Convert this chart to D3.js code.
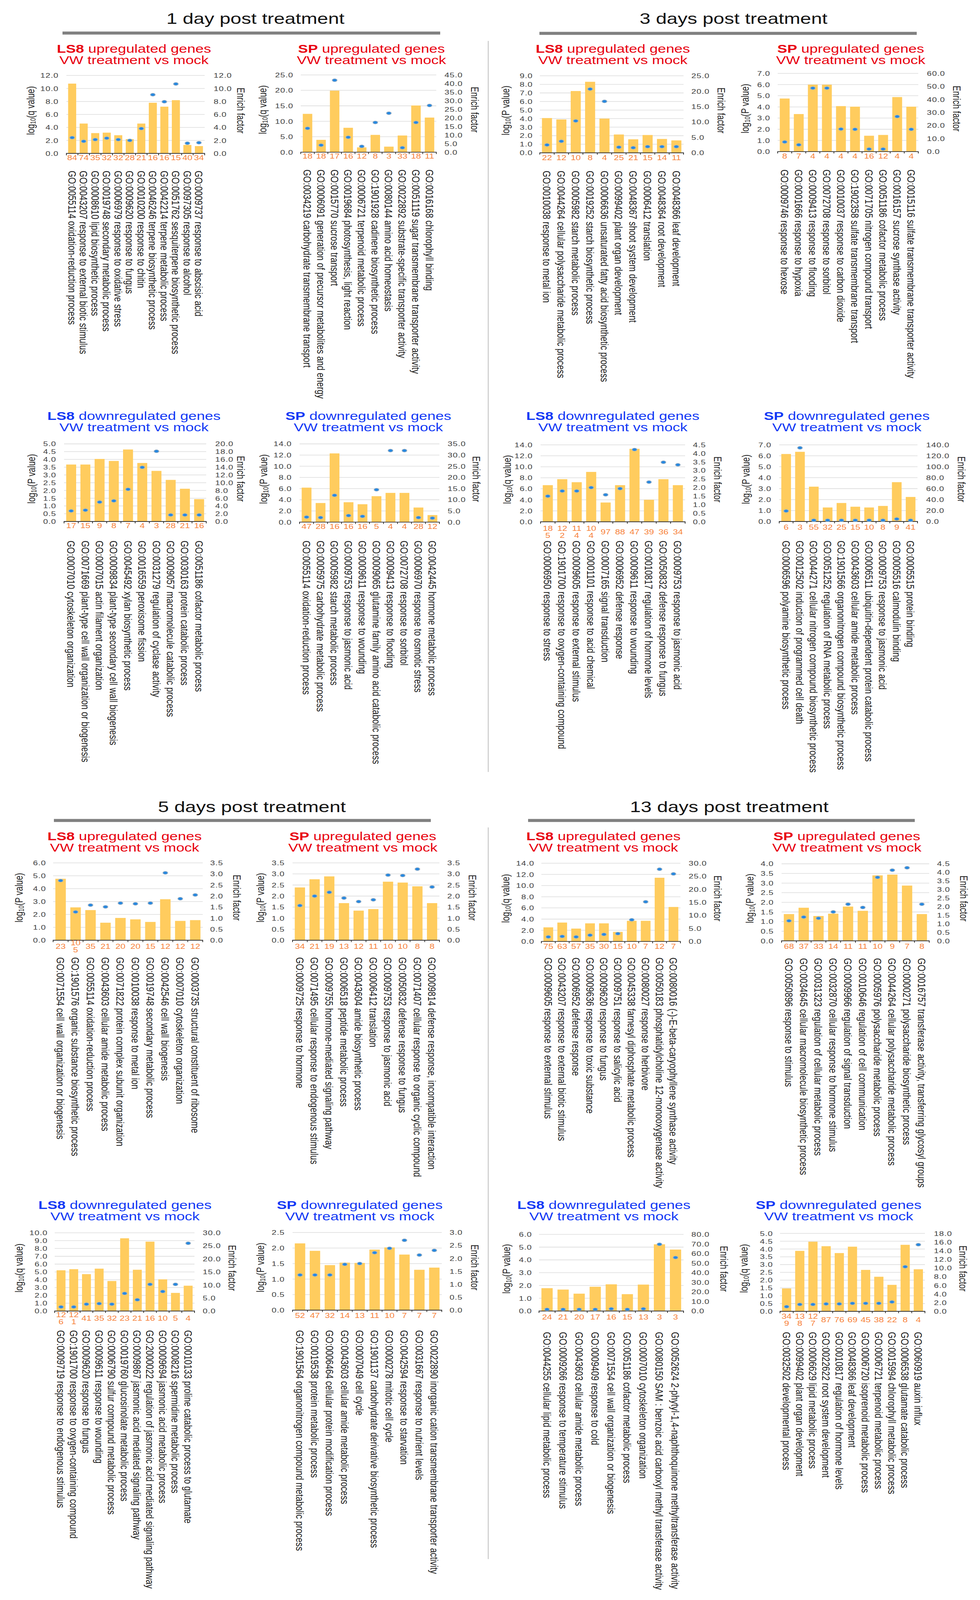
<!DOCTYPE html>
<html>
<head>
<meta charset="utf-8">
<script src="https://cdn.jsdelivr.net/npm/d3@7/dist/d3.min.js"></script>
<style>
  html, body { margin: 0; background: #fff; overflow: hidden; }
  svg { display: block; font-family: "Liberation Sans", Arial, Helvetica, sans-serif; }
</style>
</head>
<body>
<div id="chart"></div>
<script>
// ---------------- data ----------------
// axes: [left max, left step, right max, right step]

// 1 day, LS8 up
const d1LS8upTerms = ['GO:0055114 oxidation-reduction process', 'GO:0043207 response to external biotic stimulus', 'GO:0008610 lipid biosynthetic process', 'GO:0019748 secondary metabolic process', 'GO:0006979 response to oxidative stress', 'GO:0009620 response to fungus', 'GO:0010200 response to chitin', 'GO:0046246 terpene biosynthetic process', 'GO:0042214 terpene metabolic process', 'GO:0051762 sesquiterpene biosynthetic process', 'GO:0097305 response to alcohol', 'GO:0009737 response to abscisic acid']
const d1LS8upCounts = [84, 74, 35, 32, 32, 28, 21, 16, 16, 15, 40, 34]
const d1LS8upLog = [10.75, 4.6, 3.13, 3.2, 2.8, 2.2, 4.6, 7.8, 7.2, 8.2, 1.3, 1.13]
const d1LS8upEnrich = [2.43, 1.87, 2.13, 2.35, 2.13, 2.0, 3.83, 9.04, 7.96, 10.7, 1.57, 1.65]
const d1LS8upAxes = [12, 2, 12, 2]

// 1 day, SP up
const d1SPupTerms = ['GO:0034219 carbohydrate transmembrane transport', 'GO:0006091 generation of precursor metabolites and energy', 'GO:0015770 sucrose transport', 'GO:0019684 photosynthesis, light reaction', 'GO:0006721 terpenoid metabolic process', 'GO:1901928 cadinene biosynthetic process', 'GO:0080144 amino acid homeostasis', 'GO:0022892 substrate-specific transporter activity', 'GO:0051119 sugar transmembrane transporter activity', 'GO:0016168 chlorophyll binding']
const d1SPupCounts = [18, 18, 17, 16, 12, 8, 3, 33, 18, 11]
const d1SPupLog = [12.4, 4.0, 19.9, 7.9, 1.55, 5.6, 1.8, 5.4, 15.1, 11.2]
const d1SPupEnrich = [13.9, 4.1, 41.9, 8.7, 3.4, 17.3, 22.7, 2.6, 17.3, 27.2]
const d1SPupAxes = [25, 5, 45, 5]

// 3 days, LS8 up
const d3LS8upTerms = ['GO:0010038 response to metal ion', 'GO:0044264 cellular polysaccharide metabolic process', 'GO:0005982 starch metabolic process', 'GO:0019252 starch biosynthetic process', 'GO:0006636 unsaturated fatty acid biosynthetic process', 'GO:0099402 plant organ development', 'GO:0048367 shoot system development', 'GO:0006412 translation', 'GO:0048364 root development', 'GO:0048366 leaf development']
const d3LS8upCounts = [22, 12, 10, 8, 4, 25, 21, 15, 14, 11]
const d3LS8upLog = [4.06, 3.9, 7.22, 8.3, 4.0, 2.14, 1.58, 2.08, 1.62, 1.45]
const d3LS8upEnrich = [2.56, 3.75, 10.35, 20.7, 16.7, 1.83, 1.65, 2.0, 2.0, 2.0]
const d3LS8upAxes = [9, 1, 25, 5]

// 3 days, SP up
const d3SPupTerms = ['GO:0009746 response to hexose', 'GO:0001666 response to hypoxia', 'GO:0009413 response to flooding', 'GO:0072708 response to sorbitol', 'GO:0010037 response to carbon dioxide', 'GO:1902358 sulfate transmembrane transport', 'GO:0071705 nitrogen compound transport', 'GO:0051186 cofactor metabolic process', 'GO:0016157 sucrose synthase activity', 'GO:0015116 sulfate transmembrane transporter activity']
const d3SPupCounts = [8, 7, 4, 4, 4, 4, 16, 12, 4, 4]
const d3SPupLog = [4.75, 3.36, 5.99, 5.99, 4.07, 4.02, 1.42, 1.49, 4.88, 4.02]
const d3SPupEnrich = [7.4, 5.2, 48.7, 48.7, 17.3, 17.1, 1.95, 1.95, 26.9, 17.1]
const d3SPupAxes = [7, 1, 60, 10]

// 1 day, LS8 down
const d1LS8downTerms = ['GO:0007010 cytoskeleton organization', 'GO:0071669 plant-type cell wall organization or biogenesis', 'GO:0007015 actin filament organization', 'GO:0009834 plant-type secondary cell wall biogenesis', 'GO:0045492 xylan biosynthetic process', 'GO:0016559 peroxisome fission', 'GO:0031279 regulation of cyclase activity', 'GO:0009057 macromolecule catabolic process', 'GO:0030163 protein catabolic process', 'GO:0051186 cofactor metabolic process']
const d1LS8downCounts = [17, 15, 9, 8, 7, 4, 3, 28, 21, 16]
const d1LS8downLog = [3.67, 3.67, 4.03, 3.9, 4.64, 3.77, 3.26, 2.68, 2.11, 1.44]
const d1LS8downEnrich = [2.73, 2.92, 5.0, 5.32, 8.3, 13.96, 18.1, 1.69, 1.69, 1.69]
const d1LS8downAxes = [5, 0.5, 20, 2]

// 1 day, SP down
const d1SPdownTerms = ['GO:0055114 oxidation-reduction process', 'GO:0005975 carbohydrate metabolic process', 'GO:0005982 starch metabolic process', 'GO:0009753 response to jasmonic acid', 'GO:0009611 response to wounding', 'GO:0009065 glutamine family amino acid catabolic process', 'GO:0009413 response to flooding', 'GO:0072708 response to sorbitol', 'GO:0006970 response to osmotic stress', 'GO:0042445 hormone metabolic process']
const d1SPdownCounts = [47, 28, 16, 16, 16, 5, 4, 4, 28, 12]
const d1SPdownLog = [6.17, 3.42, 12.3, 3.56, 3.2, 4.64, 5.23, 5.23, 2.61, 1.26]
const d1SPdownEnrich = [2.25, 2.03, 12.0, 2.93, 2.59, 14.5, 32.0, 32.0, 2.03, 1.8]
const d1SPdownAxes = [14, 2, 35, 5]

// 3 days, LS8 down
const d3LS8downTerms = ['GO:0006950 response to stress', 'GO:1901700 response to oxygen-containing compound', 'GO:0009605 response to external stimulus', 'GO:0001101 response to acid chemical', 'GO:0007165 signal transduction', 'GO:0006952 defense response', 'GO:0009611 response to wounding', 'GO:0010817 regulation of hormone levels', 'GO:0050832 defense response to fungus', 'GO:0009753 response to jasmonic acid']
const d3LS8downCounts = [185, 122, 114, 104, 97, 88, 47, 39, 36, 34]
const d3LS8downLog = [6.66, 7.75, 7.2, 9.07, 3.51, 6.66, 13.27, 4.01, 7.75, 6.66]
const d3LS8downEnrich = [1.5, 1.8, 1.8, 2.0, 1.58, 1.94, 4.22, 2.32, 3.48, 3.33]
const d3LS8downAxes = [14, 2, 4.5, 0.5]

// 3 days, SP down
const d3SPdownTerms = ['GO:0006596 polyamine biosynthetic process', 'GO:0012502 induction of programmed cell death', 'GO:0044271 cellular nitrogen compound biosynthetic process', 'GO:0051252 regulation of RNA metabolic process', 'GO:1901566 organonitrogen compound biosynthetic process', 'GO:0043603 cellular amide metabolic process', 'GO:0006511 ubiquitin-dependent protein catabolic process', 'GO:0009753 response to jasmonic acid', 'GO:0005516 calmodulin binding', 'GO:0005515 protein binding']
const d3SPdownCounts = [6, 3, 55, 32, 25, 15, 10, 8, 9, 41]
const d3SPdownLog = [6.16, 6.36, 3.18, 1.28, 1.69, 1.35, 1.28, 1.42, 3.59, 2.24]
const d3SPdownEnrich = [19.2, 134.5, 2.3, 2.3, 2.3, 2.3, 2.3, 2.3, 4.6, 2.3]
const d3SPdownAxes = [7, 1, 140, 20]

// 5 days, LS8 up
const d5LS8upTerms = ['GO:0071554 cell wall organization or biogenesis', 'GO:1901576 organic substance biosynthetic process', 'GO:0055114 oxidation-reduction process', 'GO:0043603 cellular amide metabolic process', 'GO:0071822 protein complex subunit organization', 'GO:0010038 response to metal ion', 'GO:0019748 secondary metabolic process', 'GO:0042546 cell wall biogenesis', 'GO:0007010 cytoskeleton organization', 'GO:0003735 structural constituent of ribosome']
const d5LS8upCounts = [23, 105, 35, 21, 20, 20, 15, 12, 12, 12]
const d5LS8upLog = [4.77, 2.55, 2.34, 1.36, 1.73, 1.62, 1.42, 3.18, 1.5, 1.56]
const d5LS8upEnrich = [2.7, 1.28, 1.59, 1.51, 1.68, 1.65, 1.68, 3.05, 1.88, 2.05]
const d5LS8upAxes = [6, 1, 3.5, 0.5]

// 5 days, SP up
const d5SPupTerms = ['GO:0009725 response to hormone', 'GO:0071495 cellular response to endogenous stimulus', 'GO:0009755 hormone-mediated signaling pathway', 'GO:0006518 peptide metabolic process', 'GO:0043604 amide biosynthetic process', 'GO:0006412 translation', 'GO:0009753 response to jasmonic acid', 'GO:0050832 defense response to fungus', 'GO:0071407 cellular response to organic cyclic compound', 'GO:0009814 defense response, incompatible interaction']
const d5SPupCounts = [34, 21, 19, 13, 12, 11, 10, 10, 8, 8]
const d5SPupLog = [2.39, 2.76, 2.89, 1.68, 1.34, 1.41, 2.65, 2.61, 2.44, 1.68]
const d5SPupEnrich = [1.57, 2.0, 2.17, 1.91, 1.75, 1.83, 2.95, 2.93, 3.22, 2.41]
const d5SPupAxes = [3.5, 0.5, 3.5, 0.5]

// 13 days, LS8 up
const d13LS8upTerms = ['GO:0009605 response to external stimulus', 'GO:0043207 response to external biotic stimulus', 'GO:0006952 defense response', 'GO:0009636 response to toxic substance', 'GO:0009620 response to fungus', 'GO:0009751 response to salicylic acid', 'GO:0045338 farnesyl diphosphate metabolic process', 'GO:0080027 response to herbivore', 'GO:0050183 phosphatidylcholine 12-monooxygenase activity', 'GO:0080016 (-)-E-beta-caryophyllene synthase activity']
const d13LS8upCounts = [75, 63, 57, 35, 30, 15, 10, 7, 12, 7]
const d13LS8upLog = [2.52, 3.38, 2.3, 3.24, 3.24, 1.71, 3.69, 3.69, 11.4, 6.17]
const d13LS8upEnrich = [1.74, 1.93, 1.74, 2.41, 2.7, 2.99, 8.3, 15.2, 27.7, 25.9]
const d13LS8upAxes = [14, 2, 30, 5]

// 13 days, SP up
const d13SPupTerms = ['GO:0050896 response to stimulus', 'GO:0034645 cellular macromolecule biosynthetic process', 'GO:0031323 regulation of cellular metabolic process', 'GO:0032870 cellular response to hormone stimulus', 'GO:0009966 regulation of signal transduction', 'GO:0010646 regulation of cell communication', 'GO:0005976 polysaccharide metabolic process', 'GO:0044264 cellular polysaccharide metabolic process', 'GO:0000271 polysaccharide biosynthetic process', 'GO:0016757 transferase activity, transferring glycosyl groups']
const d13SPupCounts = [68, 37, 33, 14, 11, 11, 10, 9, 7, 8]
const d13SPupLog = [1.39, 1.72, 1.29, 1.41, 1.78, 1.56, 3.4, 3.44, 2.87, 1.39]
const d13SPupEnrich = [1.17, 1.39, 1.32, 1.69, 2.14, 1.95, 3.71, 4.13, 4.27, 2.14]
const d13SPupAxes = [4, 0.5, 4.5, 0.5]

// 5 days, LS8 down
const d5LS8downTerms = ['GO:0009719 response to endogenous stimulus', 'GO:1901700 response to oxygen-containing compound', 'GO:0009620 response to fungus', 'GO:0009611 response to wounding', 'GO:0006790 sulfur compound metabolic process', 'GO:0019760 glucosinolate metabolic process', 'GO:0009867 jasmonic acid mediated signaling pathway', 'GO:2000022 regulation of jasmonic acid mediated signaling pathway', 'GO:0009694 jasmonic acid metabolic process', 'GO:0008216 spermidine metabolic process', 'GO:0010133 proline catabolic process to glutamate']
const d5LS8downCounts = [126, 121, 41, 35, 32, 23, 21, 16, 10, 5, 4]
const d5LS8downLog = [5.21, 5.35, 4.72, 5.42, 3.84, 9.3, 5.28, 8.87, 4.05, 2.32, 3.24]
const d5LS8downEnrich = [1.58, 1.58, 2.64, 2.85, 2.64, 6.76, 4.33, 10.24, 7.5, 10.24, 26.0]
const d5LS8downAxes = [10, 1, 30, 5]

// 5 days, SP down
const d5SPdownTerms = ['GO:1901564 organonitrogen compound metabolic process', 'GO:0019538 protein metabolic process', 'GO:0006464 cellular protein modification process', 'GO:0043603 cellular amide metabolic process', 'GO:0007049 cell cycle', 'GO:1901137 carbohydrate derivative biosynthetic process', 'GO:0000278 mitotic cell cycle', 'GO:0042594 response to starvation', 'GO:0031667 response to nutrient levels', 'GO:0022890 inorganic cation transmembrane transporter activity']
const d5SPdownCounts = [52, 47, 32, 14, 13, 11, 10, 7, 7, 7]
const d5SPdownLog = [2.15, 1.91, 1.45, 1.53, 1.52, 1.95, 2.02, 1.79, 1.3, 1.37]
const d5SPdownEnrich = [1.36, 1.36, 1.36, 1.77, 1.8, 2.22, 2.39, 2.7, 2.13, 2.31]
const d5SPdownAxes = [2.5, 0.5, 3, 0.5]

// 13 days, LS8 down
const d13LS8downTerms = ['GO:0044255 cellular lipid metabolic process', 'GO:0009266 response to temperature stimulus', 'GO:0043603 cellular amide metabolic process', 'GO:0009409 response to cold', 'GO:0071554 cell wall organization or biogenesis', 'GO:0051186 cofactor metabolic process', 'GO:0007010 cytoskeleton organization', 'GO:0080150 SAM : benzoic acid carboxyl methyl transferase activity', 'GO:0052624 2-phytyl-1,4-naphthoquinone methyltransferase activity']
const d13LS8downCounts = [24, 21, 20, 17, 16, 15, 13, 3, 3]
const d13LS8downLog = [1.79, 1.68, 1.36, 1.9, 2.09, 1.32, 2.07, 5.22, 4.81]
const d13LS8downEnrich = [1.73, 1.73, 1.73, 1.73, 2.3, 1.73, 2.3, 69.6, 55.8]
const d13LS8downAxes = [6, 1, 80, 10]

// 13 days, SP down
const d13SPdownTerms = ['GO:0032502 developmental process', 'GO:0099402 plant organ development', 'GO:0006629 lipid metabolic process', 'GO:0022622 root system development', 'GO:0010817 regulation of hormone levels', 'GO:0048366 leaf development', 'GO:0006720 isoprenoid metabolic process', 'GO:0006721 terpenoid metabolic process', 'GO:0015994 chlorophyll metabolic process', 'GO:0006538 glutamate catabolic process', 'GO:0060919 auxin influx']
const d13SPdownCounts = [349, 138, 127, 87, 76, 69, 45, 38, 22, 8, 4]
const d13SPdownLog = [1.47, 3.88, 4.47, 4.18, 3.74, 4.15, 2.66, 2.22, 1.7, 4.27, 2.7]
const d13SPdownEnrich = [1.08, 1.6, 1.6, 1.72, 1.72, 1.85, 1.85, 1.85, 2.17, 10.3, 15.4]
const d13SPdownAxes = [5, 0.5, 18, 2]

const dayTitles = ['1 day post treatment', '3 days post treatment', '5 days post treatment', '13 days post treatment']

// ---------------- layout ----------------
const W = 2509, H = 5277
const barColor = '#FFCC5E'
const countColor = '#F7823A'
const upColor = '#E8000F'
const downColor = '#1238F5'

// geometry per panel (pixels)
const panels = [
  {terms: d1LS8upTerms, counts: d1LS8upCounts, log: d1LS8upLog, enr: d1LS8upEnrich, axes: d1LS8upAxes, who: 'LS8', up: true, q: 'q',
   x0: 170, x1: 524, top: 249, zero: 506, lx: 150, rx: 547, ex: 616, gx: 78, tx: 343, ty: 174, gy: 563, cy: 14},
  {terms: d1SPupTerms, counts: d1SPupCounts, log: d1SPupLog, enr: d1SPupEnrich, axes: d1SPupAxes, who: 'SP', up: true, q: 'q',
   x0: 770, x1: 1117, top: 247, zero: 502, lx: 751, rx: 1138, ex: 1215, gx: 672, tx: 951, ty: 174, gy: 559, cy: 13},
  {terms: d3LS8upTerms, counts: d3LS8upCounts, log: d3LS8upLog, enr: d3LS8upEnrich, axes: d3LS8upAxes, who: 'LS8', up: true, q: 'P',
   x0: 1382, x1: 1750, top: 250, zero: 504, lx: 1364, rx: 1770, ex: 1846, gx: 1294, tx: 1569, ty: 174, gy: 563, cy: 16},
  {terms: d3SPupTerms, counts: d3SPupCounts, log: d3SPupLog, enr: d3SPupEnrich, axes: d3SPupAxes, who: 'SP', up: true, q: 'P',
   x0: 1991, x1: 2351, top: 242, zero: 500, lx: 1972, rx: 2373, ex: 2449, gx: 1907, tx: 2178, ty: 174, gy: 559, cy: 15},

  {terms: d1LS8downTerms, counts: d1LS8downCounts, log: d1LS8downLog, enr: d1LS8downEnrich, axes: d1LS8downAxes, who: 'LS8', up: false, q: 'P',
   x0: 164, x1: 528, top: 1464, zero: 1720, lx: 144, rx: 551, ex: 616, gx: 80, tx: 343, ty: 1385, gy: 1783, cy: 14},
  {terms: d1SPdownTerms, counts: d1SPdownCounts, log: d1SPdownLog, enr: d1SPdownEnrich, axes: d1SPdownAxes, who: 'SP', up: false, q: 'P',
   x0: 767, x1: 1125, top: 1464, zero: 1722, lx: 747, rx: 1146, ex: 1219, gx: 674, tx: 943, ty: 1385, gy: 1783, cy: 14},
  {terms: d3LS8downTerms, counts: d3LS8downCounts, log: d3LS8downLog, enr: d3LS8downEnrich, axes: d3LS8downAxes, who: 'LS8', up: false, q: 'q',
   x0: 1384, x1: 1754, top: 1467, zero: 1721, lx: 1364, rx: 1774, ex: 1837, gx: 1298, tx: 1569, ty: 1385, gy: 1783, cy: 33},
  {terms: d3SPdownTerms, counts: d3SPdownCounts, log: d3SPdownLog, enr: d3SPdownEnrich, axes: d3SPdownAxes, who: 'SP', up: false, q: 'P',
   x0: 1995, x1: 2349, top: 1467, zero: 1720, lx: 1975, rx: 2371, ex: 2461, gx: 1909, tx: 2168, ty: 1385, gy: 1783, cy: 18},

  {terms: d5LS8upTerms, counts: d5LS8upCounts, log: d5LS8upLog, enr: d5LS8upEnrich, axes: d5LS8upAxes, who: 'LS8', up: true, q: 'P',
   x0: 136, x1: 519, top: 2846, zero: 3101, lx: 118, rx: 538, ex: 606, gx: 48, tx: 319, ty: 2771, gy: 3157, cy: 20},
  {terms: d5SPupTerms, counts: d5SPupCounts, log: d5SPupLog, enr: d5SPupEnrich, axes: d5SPupAxes, who: 'SP', up: true, q: 'P',
   x0: 749, x1: 1125, top: 2846, zero: 3101, lx: 729, rx: 1145, ex: 1209, gx: 666, tx: 929, ty: 2771, gy: 3157, cy: 20},
  {terms: d13LS8upTerms, counts: d13LS8upCounts, log: d13LS8upLog, enr: d13LS8upEnrich, axes: d13LS8upAxes, who: 'LS8', up: true, q: 'q',
   x0: 1386, x1: 1742, top: 2847, zero: 3105, lx: 1368, rx: 1763, ex: 1837, gx: 1294, tx: 1545, ty: 2771, gy: 3158, cy: 16},
  {terms: d13SPupTerms, counts: d13SPupCounts, log: d13SPupLog, enr: d13SPupEnrich, axes: d13SPupAxes, who: 'SP', up: true, q: 'P',
   x0: 2001, x1: 2379, top: 2849, zero: 3103, lx: 1981, rx: 2399, ex: 2467, gx: 1919, tx: 2168, ty: 2771, gy: 3160, cy: 18},

  {terms: d5LS8downTerms, counts: d5LS8downCounts, log: d5LS8downLog, enr: d5LS8downEnrich, axes: d5LS8downAxes, who: 'LS8', up: false, q: 'q',
   x0: 140, x1: 498, top: 4066, zero: 4324, lx: 122, rx: 519, ex: 594, gx: 48, tx: 320, ty: 3988, gy: 4387, cy: 24},
  {terms: d5SPdownTerms, counts: d5SPdownCounts, log: d5SPdownLog, enr: d5SPdownEnrich, axes: d5SPdownAxes, who: 'SP', up: false, q: 'P',
   x0: 749, x1: 1131, top: 4065, zero: 4321, lx: 729, rx: 1151, ex: 1215, gx: 666, tx: 921, ty: 3988, gy: 4387, cy: 18},
  {terms: d13LS8downTerms, counts: d13LS8downCounts, log: d13LS8downLog, enr: d13LS8downEnrich, axes: d13LS8downAxes, who: 'LS8', up: false, q: 'P',
   x0: 1380, x1: 1750, top: 4071, zero: 4324, lx: 1362, rx: 1770, ex: 1853, gx: 1296, tx: 1546, ty: 3988, gy: 4393, cy: 20},
  {terms: d13SPdownTerms, counts: d13SPdownCounts, log: d13SPdownLog, enr: d13SPdownEnrich, axes: d13SPdownAxes, who: 'SP', up: false, q: 'q',
   x0: 1997, x1: 2368, top: 4068, zero: 4325, lx: 1979, rx: 2391, ex: 2465, gx: 1904, tx: 2147, ty: 3988, gy: 4393, cy: 28}
]

// day headers: center x, baseline y, rule x-extent, rule y
const headers = [
  {cx: 654, by: 78, r0: 160, r1: 1127, ry: 104},
  {cx: 1878, by: 78, r0: 1381, r1: 2347, ry: 105},
  {cx: 645, by: 2678, r0: 138, r1: 1103, ry: 2701},
  {cx: 1867, by: 2678, r0: 1352, r1: 2342, ry: 2701}
]

// the window can be shorter than the drawing: fit the whole drawing into it
const vw = window.innerWidth || W
const vh = window.innerHeight || H

const svg = d3.select('#chart').append('svg')
  .attr('width', vw).attr('height', vh)
  .attr('viewBox', `0 0 ${W} ${H}`)
  .attr('preserveAspectRatio', 'none')

const defs = svg.append('defs')
const grad = defs.append('radialGradient').attr('id', 'dot')
grad.append('stop').attr('offset', '0%').attr('stop-color', '#1A84E6')
grad.append('stop').attr('offset', '55%').attr('stop-color', '#2F8BDD')
grad.append('stop').attr('offset', '80%').attr('stop-color', '#8FA9C2')
grad.append('stop').attr('offset', '100%').attr('stop-color', '#B8C2CC').attr('stop-opacity', 0.4)

svg.append('rect').attr('width', W).attr('height', H).attr('fill', '#fff')

// separators
svg.append('line').attr('x1', 1250).attr('x2', 1250).attr('y1', 135).attr('y2', 2546)
  .attr('stroke', '#C8C8C8').attr('stroke-width', 2.5)
svg.append('line').attr('x1', 1250).attr('x2', 1250).attr('y1', 2729).attr('y2', 5142)
  .attr('stroke', '#C8C8C8').attr('stroke-width', 2.5)

headers.forEach((h, i) => {
  svg.append('text').attr('x', h.cx).attr('y', h.by)
    .attr('text-anchor', 'middle').attr('font-size', 50).attr('fill', '#111')
    .text(dayTitles[i])
  svg.append('rect').attr('x', h.r0).attr('y', h.ry).attr('width', h.r1 - h.r0).attr('height', 10)
    .attr('fill', '#808080')
})

const fmt = d3.format('.1f')

panels.forEach(p => {
  const g = svg.append('g')
  const n = p.log.length
  const [lMax, lStep, rMax, rStep] = p.axes

  const x = d3.scaleBand().domain(d3.range(n)).range([p.x0, p.x1])
    .paddingInner(0.3).paddingOuter(0.15)
  const yL = d3.scaleLinear().domain([0, lMax]).range([p.zero, p.top])
  const yR = d3.scaleLinear().domain([0, rMax]).range([p.zero, p.top])

  // title
  const col = p.up ? upColor : downColor
  const t1 = g.append('text').attr('x', p.tx).attr('y', p.ty)
    .attr('text-anchor', 'middle').attr('font-size', 38).attr('fill', col)
  t1.append('tspan').attr('font-weight', 'bold').text(p.who)
  t1.append('tspan').text(p.up ? ' upregulated genes' : ' downregulated genes')
  g.append('text').attr('x', p.tx).attr('y', p.ty + 37)
    .attr('text-anchor', 'middle').attr('font-size', 38).attr('fill', col)
    .text('VW treatment vs mock')

  // grid + left ticks
  const lTicks = d3.range(0, lMax + lStep / 2, lStep)
  g.selectAll('.grid').data(lTicks.slice(1)).join('line')
    .attr('x1', p.x0).attr('x2', p.x1)
    .attr('y1', d => yL(d)).attr('y2', d => yL(d))
    .attr('stroke', '#DCDCDC').attr('stroke-width', 2)
  g.selectAll('.lt').data(lTicks).join('text')
    .attr('x', p.lx).attr('y', d => yL(d))
    .attr('text-anchor', 'end').attr('dominant-baseline', 'central')
    .attr('font-size', 22).attr('letter-spacing', 1).attr('fill', '#404040')
    .text(d => fmt(d))
  const rTicks = d3.range(0, rMax + rStep / 2, rStep)
  g.selectAll('.rt').data(rTicks).join('text')
    .attr('x', p.rx).attr('y', d => yR(d))
    .attr('text-anchor', 'start').attr('dominant-baseline', 'central')
    .attr('font-size', 22).attr('letter-spacing', 1).attr('fill', '#404040')
    .text(d => fmt(d))

  // bars
  g.selectAll('.bar').data(p.log).join('rect')
    .attr('x', (d, i) => x(i)).attr('width', x.bandwidth())
    .attr('y', d => yL(d)).attr('height', d => p.zero - yL(d))
    .attr('fill', barColor)

  // baseline with category ticks
  g.append('line').attr('x1', p.x0 - 1).attr('x2', p.x1 + 1)
    .attr('y1', p.zero).attr('y2', p.zero)
    .attr('stroke', '#333').attr('stroke-width', 2.5)
  const stepW = (p.x1 - p.x0) / n
  g.selectAll('.tk').data(d3.range(n + 1)).join('line')
    .attr('x1', i => p.x0 + i * stepW).attr('x2', i => p.x0 + i * stepW)
    .attr('y1', p.zero).attr('y2', p.zero + 6)
    .attr('stroke', '#333').attr('stroke-width', 2)

  // enrich factor dots
  g.selectAll('.dot').data(p.enr).join('ellipse')
    .attr('cx', (d, i) => x(i) + x.bandwidth() / 2).attr('cy', d => yR(d))
    .attr('rx', 7.5).attr('ry', 6)
    .attr('fill', 'url(#dot)')

  // gene counts (three digits wrap onto two lines, as in the source)
  p.counts.forEach((c, i) => {
    const s = String(c)
    const cx = x(i) + x.bandwidth() / 2
    const lines = s.length > 2 ? [s.slice(0, 2), s.slice(2)] : [s]
    lines.forEach((ln, k) => {
      const dy = lines.length === 1 ? 0 : (k === 0 ? -11.5 : 11.5)
      g.append('text').attr('x', cx).attr('y', p.zero + p.cy + dy)
        .attr('text-anchor', 'middle').attr('dominant-baseline', 'central')
        .attr('font-size', 23).attr('fill', countColor)
        .text(ln)
    })
  })

  // GO term labels
  g.selectAll('.go').data(p.terms).join('text')
    .attr('transform', (d, i) => `translate(${x(i) + x.bandwidth() / 2},${p.gy}) rotate(90)`)
    .attr('dominant-baseline', 'central')
    .attr('font-size', 28).attr('fill', '#1a1a1a')
    .text(d => d)

  // axis titles
  const midY = p.top + 0.45 * (p.zero - p.top)
  const yl = g.append('text')
    .attr('transform', `translate(${p.gx},${midY}) rotate(-90)`)
    .attr('text-anchor', 'middle').attr('dominant-baseline', 'central')
    .attr('font-size', 27).attr('fill', '#222')
  yl.append('tspan').text('log')
  yl.append('tspan').attr('font-size', 18).attr('dy', 6).text('10')
  yl.append('tspan').attr('dy', -6).text(`(${p.q} value)`)

  g.append('text')
    .attr('transform', `translate(${p.ex},${midY}) rotate(90)`)
    .attr('text-anchor', 'middle').attr('dominant-baseline', 'central')
    .attr('font-size', 27).attr('fill', '#222')
    .text('Enrich factor')
})
</script>
</body>
</html>
